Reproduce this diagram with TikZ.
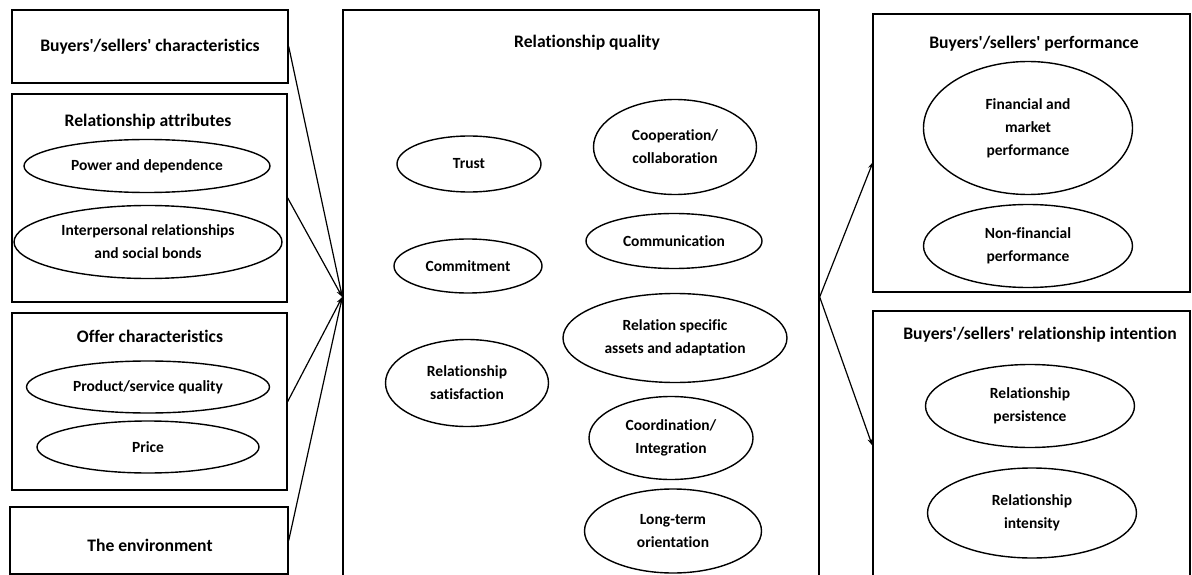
\documentclass[tikz,border=0pt]{standalone}
\usepackage{fontspec}
\newfontfamily\calfont{Carlito}[Ligatures=CommonOff]
\usetikzlibrary{arrows.meta,shapes.geometric}

\begin{document}
\begin{tikzpicture}[x=1pt,y=-1pt,
    box/.style={draw,line width=1.4pt,rectangle,inner sep=0pt},
    oval/.style={draw,line width=1.4pt,ellipse,inner sep=0pt,align=center,
        font=\calfont\bfseries\fontsize{15.5}{23}\selectfont},
    title/.style={font=\calfont\bfseries\fontsize{17.6}{22}\selectfont},
    link/.style={line width=1.2pt,-{Stealth[length=7pt,width=5pt]}}]
    \useasboundingbox (0,0) rectangle (1192,575);

    % left column
    \node[box,title,minimum width=276pt,minimum height=73pt] (chars) at (150,46.5) {Buyers'/sellers' characteristics};

    \node[box,minimum width=275pt,minimum height=208pt] (attr) at (149.5,198) {};
    \node[title] (attrT) at (148,122) {Relationship attributes};
    \node[oval,minimum width=246pt,minimum height=53pt] (power) at (147,166) {Power and dependence};
    \node[oval,minimum width=268pt,minimum height=73pt] (bonds) at (148,242) {Interpersonal relationships\\and social bonds};

    \node[box,minimum width=275pt,minimum height=177pt] (offer) at (149.5,401.5) {};
    \node[title] (offerT) at (150,336) {Offer characteristics};
    \node[oval,minimum width=243pt,minimum height=52pt] (prod) at (148,387) {Product/service quality};
    \node[oval,minimum width=222pt,minimum height=52pt] (price) at (148,447) {Price};

    \node[box,minimum width=278pt,minimum height=67pt] (env) at (149,540.5) {};
    \node[title] (envT) at (150,545) {The environment};

    % centre
    \node[box,minimum width=476pt,minimum height=574pt] (quality) at (581,297) {};
    \node[title] (qualityT) at (587,43) {Relationship quality};
    \node[oval,minimum width=144pt,minimum height=56pt] (trust) at (469,164) {Trust};
    \node[oval,minimum width=148pt,minimum height=54pt] (commit) at (468,266) {Commitment};
    \node[oval,minimum width=163pt,minimum height=87pt] (satis) at (467,383) {Relationship\\satisfaction};
    \node[oval,minimum width=163pt,minimum height=95pt] (coop) at (675,147) {Cooperation/\\collaboration};
    \node[oval,minimum width=176pt,minimum height=55pt] (comm) at (674,241) {Communication};
    \node[oval,minimum width=224pt,minimum height=89pt] (assets) at (675,338) {Relation specific\\assets and adaptation};
    \node[oval,minimum width=164pt,minimum height=83pt] (coord) at (671,438) {Coordination/\\Integration};
    \node[oval,minimum width=177pt,minimum height=84pt] (longt) at (673,531) {Long-term\\orientation};

    % right column
    \node[box,minimum width=317pt,minimum height=278pt] (perf) at (1031.5,153) {};
    \node[title] (perfT) at (1034,44) {Buyers'/sellers' performance};
    \node[oval,minimum width=209pt,minimum height=133pt] (fin) at (1028,128) {Financial and\\market\\performance};
    \node[oval,minimum width=209pt,minimum height=83pt] (nonfin) at (1028,246) {Non-financial\\performance};

    \node[box,minimum width=317pt,minimum height=269pt] (intent) at (1031.5,445.5) {};
    \node[title] (intentT) at (1040,335) {Buyers'/sellers' relationship intention};
    \node[oval,minimum width=209pt,minimum height=83pt] (persist) at (1030,406) {Relationship\\persistence};
    \node[oval,minimum width=209pt,minimum height=90pt] (intens) at (1032,513) {Relationship\\intensity};

    \coordinate (perfin) at (873,162);

    \draw[link] (chars.east) -- (quality.west);
    \draw[link] (attr.east) -- (quality.west);
    \draw[link] (offer.east) -- (quality.west);
    \draw[link] (env.east) -- (quality.west);
    \draw[link] (quality.east) -- (perfin);
    \draw[link] (quality.east) -- (intent.west);

\end{tikzpicture}
\end{document}
